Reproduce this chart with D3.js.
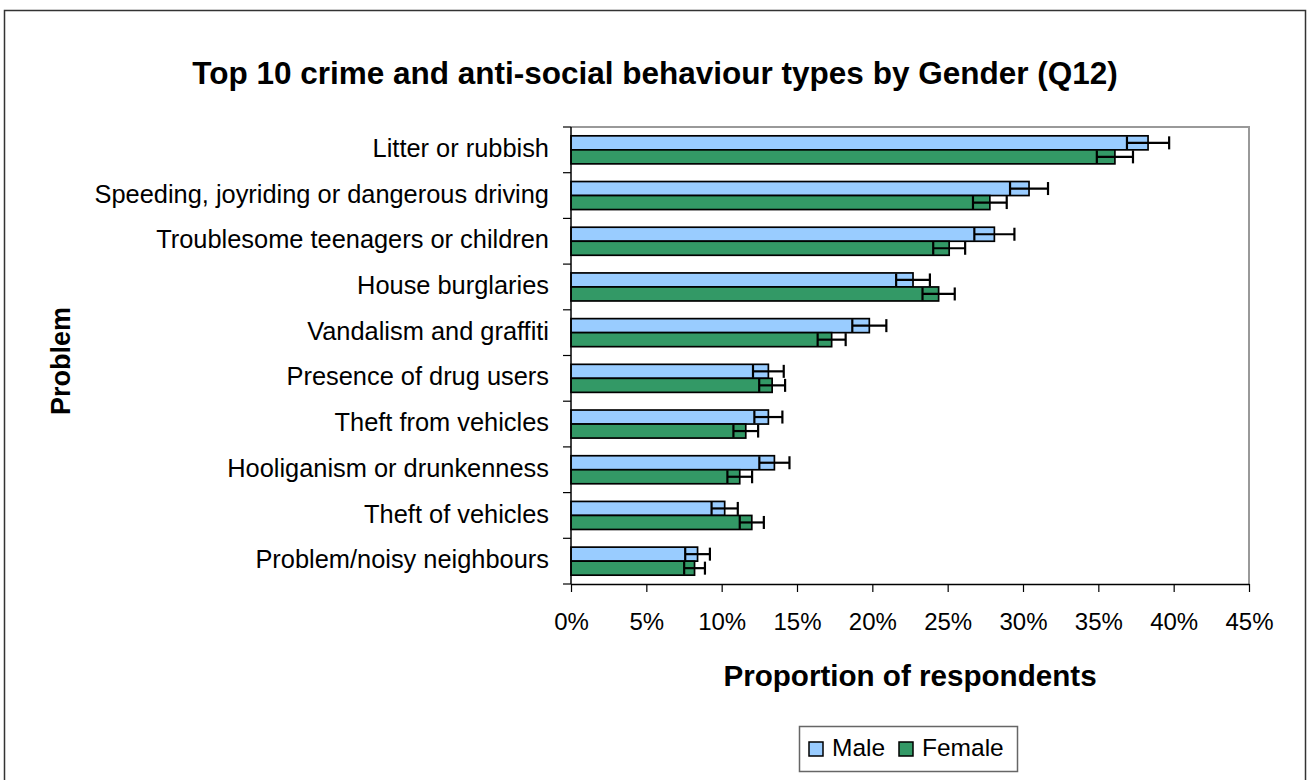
<!DOCTYPE html>
<html>
<head>
<meta charset="utf-8">
<script src="https://cdn.jsdelivr.net/npm/d3@7"></script>
<style>
  html, body { margin: 0; padding: 0; background: #fff; }
  svg { display: block; font-family: "Liberation Sans", Arial, sans-serif; }
</style>
</head>
<body>
<svg id="chart" width="1311" height="780"></svg>
<script>
const categories = [
  "Litter or rubbish",
  "Speeding, joyriding or dangerous driving",
  "Troublesome teenagers or children",
  "House burglaries",
  "Vandalism and graffiti",
  "Presence of drug users",
  "Theft from vehicles",
  "Hooliganism or drunkenness",
  "Theft of vehicles",
  "Problem/noisy neighbours"
];
const seriesNames = ["Male", "Female"];
const maleValues   = [38.3, 30.4, 28.1, 22.7, 19.8, 13.1, 13.1, 13.5, 10.2, 8.4];
const femaleValues = [36.1, 27.8, 25.1, 24.4, 17.3, 13.35, 11.6, 11.2, 12.0, 8.2];
const maleErrors   = [1.4, 1.26, 1.33, 1.12, 1.13, 1.02, 0.93, 1.0, 0.87, 0.82];
const femaleErrors = [1.2, 1.12, 1.06, 1.07, 0.93, 0.86, 0.82, 0.82, 0.8, 0.69];
const xTickValues  = [0, 5, 10, 15, 20, 25, 30, 35, 40, 45];
const seriesColors = ["#99CCFF", "#339966"];

const svg = d3.select("#chart");
const plot = { left: 571, top: 127, right: 1249, bottom: 584 };

// outer border
svg.append("rect")
  .attr("x", 4.5).attr("y", 10.5)
  .attr("width", 1301).attr("height", 800)
  .attr("fill", "#fff").attr("stroke", "#333").attr("stroke-width", 1.5);

// title
svg.append("text")
  .attr("x", 655).attr("y", 84)
  .attr("text-anchor", "middle")
  .attr("font-size", 31.5).attr("font-weight", "bold")
  .text("Top 10 crime and anti-social behaviour types by Gender (Q12)");

const x = d3.scaleLinear().domain([0, 45]).range([plot.left, plot.right]);
const y0 = d3.scaleBand().domain(categories).range([plot.top, plot.bottom]).padding(0);
const y1 = d3.scaleBand().domain(seriesNames).range([0, y0.bandwidth()])
  .paddingInner(0).paddingOuter(0.63);

// plot area border (top/right grey)
svg.append("path")
  .attr("d", `M${plot.left},${plot.top}H${plot.right}V${plot.bottom}`)
  .attr("fill", "none").attr("stroke", "#999").attr("stroke-width", 2);

const rows = categories.map((c, i) => ({
  cat: c,
  vals: [
    { s: "Male", v: maleValues[i], e: maleErrors[i], color: seriesColors[0] },
    { s: "Female", v: femaleValues[i], e: femaleErrors[i], color: seriesColors[1] }
  ]
}));

const groups = svg.append("g").selectAll("g").data(rows).join("g")
  .attr("transform", d => `translate(0,${y0(d.cat)})`);

groups.selectAll("rect").data(d => d.vals).join("rect")
  .attr("x", x(0))
  .attr("y", d => y1(d.s))
  .attr("width", d => x(d.v) - x(0))
  .attr("height", y1.bandwidth())
  .attr("fill", d => d.color)
  .attr("stroke", "#000").attr("stroke-width", 1.7);

// error bars
const eb = groups.selectAll("g.err").data(d => d.vals).join("g").attr("class", "err")
  .attr("stroke", "#000").attr("stroke-width", 2.2);
eb.append("line")
  .attr("x1", d => x(d.v - d.e)).attr("x2", d => x(d.v + d.e))
  .attr("y1", d => y1(d.s) + y1.bandwidth() / 2)
  .attr("y2", d => y1(d.s) + y1.bandwidth() / 2);
eb.append("line")
  .attr("x1", d => x(d.v - d.e)).attr("x2", d => x(d.v - d.e))
  .attr("y1", d => y1(d.s) + 0.5).attr("y2", d => y1(d.s) + y1.bandwidth() - 0.5);
eb.append("line")
  .attr("x1", d => x(d.v + d.e)).attr("x2", d => x(d.v + d.e))
  .attr("y1", d => y1(d.s) + 0.5).attr("y2", d => y1(d.s) + y1.bandwidth() - 0.5);

// x axis
const xAxis = svg.append("g")
  .attr("transform", `translate(0,${plot.bottom})`)
  .call(d3.axisBottom(x).tickValues(xTickValues).tickFormat(d => d + "%")
    .tickSize(8).tickPadding(21).tickSizeOuter(0));
xAxis.select(".domain").attr("stroke", "#000").attr("stroke-width", 1.5);
xAxis.selectAll(".tick line").attr("stroke", "#000").attr("stroke-width", 1.2);
xAxis.selectAll("text").attr("font-size", 24).attr("fill", "#000")
  .attr("font-family", "'Liberation Sans', Arial, sans-serif");

// y axis: line + ticks at category boundaries
svg.append("line")
  .attr("x1", plot.left).attr("x2", plot.left)
  .attr("y1", plot.top).attr("y2", plot.bottom)
  .attr("stroke", "#000").attr("stroke-width", 1.5);
const boundaries = categories.map(c => y0(c)).concat([plot.bottom]);
svg.append("g").selectAll("line").data(boundaries).join("line")
  .attr("x1", plot.left - 8).attr("x2", plot.left)
  .attr("y1", d => d).attr("y2", d => d)
  .attr("stroke", "#000").attr("stroke-width", 1.2);

svg.append("g").selectAll("text").data(categories).join("text")
  .attr("x", 549)
  .attr("y", d => y0(d) + y0.bandwidth() / 2)
  .attr("dy", "0.28em")
  .attr("text-anchor", "end")
  .attr("font-size", 25.4)
  .text(d => d);

// axis titles
svg.append("text")
  .attr("x", 910).attr("y", 686)
  .attr("text-anchor", "middle")
  .attr("font-size", 29.6).attr("font-weight", "bold")
  .text("Proportion of respondents");

svg.append("text")
  .attr("transform", "translate(70,361) rotate(-90)")
  .attr("text-anchor", "middle")
  .attr("font-size", 27).attr("font-weight", "bold")
  .text("Problem");

// legend
const legend = svg.append("g");
legend.append("rect")
  .attr("x", 799.5).attr("y", 726.5).attr("width", 218).attr("height", 45)
  .attr("fill", "#fff").attr("stroke", "#666").attr("stroke-width", 1.5);
const legendItems = [
  { name: seriesNames[0], color: seriesColors[0], sx: 809, tx: 832 },
  { name: seriesNames[1], color: seriesColors[1], sx: 899, tx: 922 }
];
legendItems.forEach(it => {
  legend.append("rect")
    .attr("x", it.sx).attr("y", 742).attr("width", 14).attr("height", 14)
    .attr("fill", it.color).attr("stroke", "#000").attr("stroke-width", 1.5);
  legend.append("text")
    .attr("x", it.tx).attr("y", 756)
    .attr("font-size", 24.5)
    .text(it.name);
});
</script>
</body>
</html>
